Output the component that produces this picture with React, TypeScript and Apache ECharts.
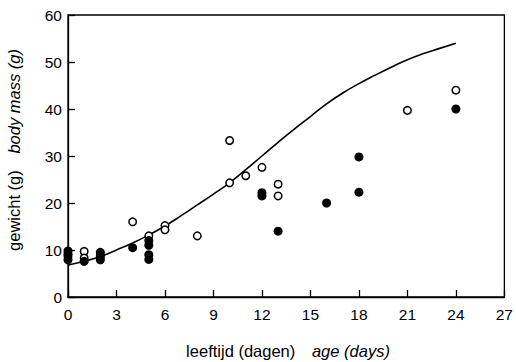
import React, { useEffect, useRef } from "react";
import * as echarts from "echarts";

const xTicks = [0, 3, 6, 9, 12, 15, 18, 21, 24, 27];
const yTicks = [0, 10, 20, 30, 40, 50, 60];

const filledX = [0, 0, 0, 1, 2, 2, 2, 4, 5, 5, 5, 5, 12, 12, 13, 16, 18, 18, 24];
const filledY = [9.8, 8.8, 7.9, 7.6, 9.5, 8.5, 7.9, 10.5, 12, 11, 9, 8, 22.2, 21.5, 14, 20, 22.3, 29.8, 40];

const openX = [0, 1, 1, 2, 4, 5, 6, 6, 8, 10, 10, 11, 12, 13, 13, 21, 24];
const openY = [9.2, 9.7, 8.3, 9, 16, 13, 15.2, 14.3, 13, 33.3, 24.3, 25.8, 27.6, 24, 21.5, 39.7, 44];

const curveX = [0, 1, 2, 3, 4, 5, 6, 7, 8, 9, 10, 11, 12, 13, 14, 15, 16, 17, 18, 19, 20, 21, 22, 23, 24];
const curveY = [6.8, 7.6, 8.6, 10, 11.5, 13.2, 15.1, 17.3, 19.6, 21.9, 24.3, 27.1, 30, 32.9, 35.7, 38.4, 41.1, 43.4, 45.4, 47.2, 48.9, 50.5, 51.8, 52.9, 54.0];

const xTitleNl = "leeftijd (dagen)";
const xTitleEn = "age (days)";
const yTitleNl = "gewicht (g)";
const yTitleEn = "body mass (g)";

const FONT = "'Liberation Sans', Arial, Helvetica, sans-serif";

export default function App() {
  const ref = useRef<HTMLDivElement>(null);
  useEffect(() => {
    if (!ref.current) return;
    const chart = echarts.init(ref.current, null, { renderer: "svg" });
    const zip = (xs: number[], ys: number[]) => xs.map((x, i) => [x, ys[i]]);
    const titleRich = {
      a: { fontSize: 16.5, fontFamily: FONT, fill: "#000" },
      b: { fontSize: 16.5, fontFamily: FONT, fontStyle: "italic", fill: "#000" },
    };
    chart.setOption({
      animation: false,
      backgroundColor: "#fff",
      grid: {
        left: 68,
        right: 8,
        top: 15,
        bottom: 65,
        show: true,
        borderColor: "#000",
        borderWidth: 1.3,
        backgroundColor: "transparent",
      },
      xAxis: {
        type: "value",
        min: 0,
        max: 27,
        interval: 3,
        axisLine: { show: true, onZero: false, lineStyle: { color: "#000", width: 1.3 } },
        axisTick: { show: true, inside: true, length: 7, lineStyle: { color: "#000", width: 1.3 } },
        axisLabel: {
          color: "#000",
          fontSize: 15.5,
          fontFamily: FONT,
          margin: 9,
          formatter: (v: number) => (xTicks.includes(v) ? String(v) : ""),
        },
        splitLine: { show: false },
      },
      yAxis: {
        type: "value",
        min: 0,
        max: 60,
        interval: 10,
        axisLine: { show: true, onZero: false, lineStyle: { color: "#000", width: 1.3 } },
        axisTick: { show: true, inside: true, length: 7, lineStyle: { color: "#000", width: 1.3 } },
        axisLabel: {
          color: "#000",
          fontSize: 15.5,
          fontFamily: FONT,
          margin: 6,
          formatter: (v: number) => (yTicks.includes(v) ? String(v) : ""),
        },
        splitLine: { show: false },
      },
      graphic: [
        {
          type: "text",
          x: 288,
          y: 351,
          style: {
            text: "{a|" + xTitleNl + "}     {b|" + xTitleEn + "}",
            align: "center",
            verticalAlign: "middle",
            rich: titleRich,
          },
        },
        {
          type: "text",
          x: 14,
          y: 150,
          rotation: Math.PI / 2,
          style: {
            text: "{a|" + yTitleNl + "}     {b|" + yTitleEn + "}",
            align: "center",
            verticalAlign: "middle",
            rich: titleRich,
          },
        },
      ],
      series: [
        {
          type: "line",
          data: zip(curveX, curveY),
          smooth: true,
          symbol: "none",
          lineStyle: { color: "#000", width: 1.6 },
          z: 2,
        },
        {
          type: "scatter",
          data: zip(openX, openY),
          symbol: "circle",
          symbolSize: 7.5,
          itemStyle: { color: "#fff", borderColor: "#000", borderWidth: 1.5, opacity: 1 },
          z: 3,
        },
        {
          type: "scatter",
          data: zip(filledX, filledY),
          symbol: "circle",
          symbolSize: 9,
          itemStyle: { color: "#000", borderColor: "#000", borderWidth: 0, opacity: 1 },
          z: 4,
        },
      ],
    });
    return () => chart.dispose();
  }, []);
  return (
    <div
      ref={ref}
      style={{ position: "fixed", left: 0, top: 0, width: 516, height: 362, background: "#fff" }}
    />
  );
}
